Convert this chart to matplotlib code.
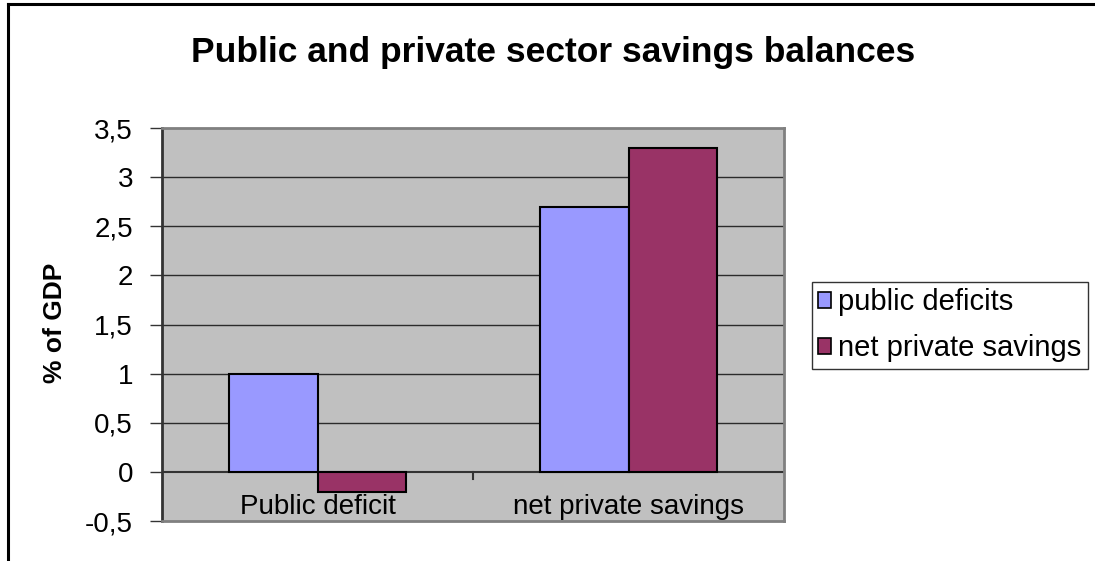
import matplotlib.pyplot as plt
from matplotlib.lines import Line2D
from matplotlib.patches import Patch
from matplotlib.ticker import FuncFormatter

plt.rcParams['font.family'] = ['Liberation Sans', 'DejaVu Sans']

# data
categories = ["Public deficit", "net private savings"]
series_names = ["public deficits", "net private savings"]
public_deficits = [1.0, 2.7]
net_private_savings = [-0.2, 3.3]
colors = ["#9999FF", "#993366"]

fig = plt.figure(figsize=(10.95, 5.61), dpi=100)
ax = fig.add_axes([0.148, 0.0713, 0.568, 0.7005])
ax.set_facecolor("#C0C0C0")

w = 1 / 3.5
x = list(range(len(categories)))
ax.bar([i - w / 2 for i in x], public_deficits, w, color=colors[0],
       edgecolor="black", linewidth=1.5, zorder=3)
ax.bar([i + w / 2 for i in x], net_private_savings, w, color=colors[1],
       edgecolor="black", linewidth=1.5, zorder=3)

ax.set_xlim(-0.5, 1.5)
ax.set_ylim(-0.5, 3.5)
ax.set_yticks([-0.5, 0, 0.5, 1, 1.5, 2, 2.5, 3, 3.5])
ax.yaxis.set_major_formatter(FuncFormatter(lambda v, p: ("%g" % v).replace(".", ",")))
ax.tick_params(axis="y", labelsize=20, length=9, width=1, color="#333333", pad=12)
ax.set_xticks([])
for g in [0.5, 1, 1.5, 2, 2.5, 3]:
    ax.axhline(g, color="#2b2b2b", lw=1, zorder=1)
ax.axhline(0, color="#333333", lw=1.5, zorder=2)
# category separator tick
ax.plot([0.5, 0.5], [0, -0.07], color="#333333", lw=1.5, zorder=2, clip_on=False)

for s in ["top", "right", "bottom"]:
    ax.spines[s].set_color("#808080")
    ax.spines[s].set_linewidth(2)
ax.spines["left"].set_color("#333333")
ax.spines["left"].set_linewidth(2)

for i, c in enumerate(categories):
    ax.text(i, -0.36, c, ha="center", va="center", fontsize=20)

fig.text(55 / 1095, 1 - 323 / 561, "% of GDP", rotation=90, ha="center",
         va="center", fontsize=19, fontweight="bold")

fig.text(0.505, 0.907, "Public and private sector savings balances",
         ha="center", va="center", fontsize=25.5, fontweight="bold")

handles = [Patch(facecolor=colors[k], edgecolor="black", linewidth=1.2) for k in range(2)]
leg = fig.legend(handles, series_names, loc="upper left",
                 bbox_to_anchor=(812 / 1095, 1 - 282 / 561), fontsize=21,
                 frameon=True, fancybox=False, borderpad=0.22, labelspacing=0.62,
                 handlelength=0.43, handleheight=0.43, handletextpad=0.25,
                 borderaxespad=0)
leg.get_frame().set_edgecolor("black")
leg.get_frame().set_linewidth(1)

# chart frame (top and left edges visible)
fig.add_artist(Line2D([8 / 1095, 1], [1 - 4 / 561, 1 - 4 / 561], color="black", lw=2.2))
fig.add_artist(Line2D([8 / 1095, 8 / 1095], [0, 1 - 4 / 561], color="black", lw=2.2))

fig.savefig("out.png", dpi=100)
